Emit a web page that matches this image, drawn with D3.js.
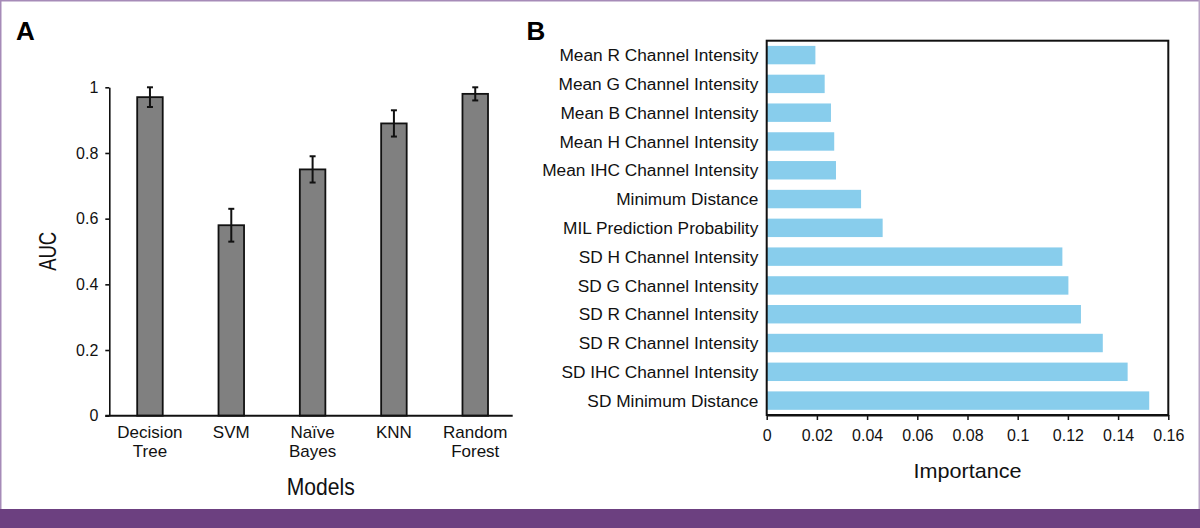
<!DOCTYPE html>
<html>
<head>
<meta charset="utf-8">
<script src="https://cdn.jsdelivr.net/npm/d3@7"></script>
<style>
  html, body { margin: 0; padding: 0; background: #fff; }
  svg { display: block; font-family: "Liberation Sans", Arial, Helvetica, sans-serif; }
</style>
</head>
<body>
<svg id="chart" width="1200" height="528"></svg>
<script>
// ---------- Data ----------
const models = ["Decision Tree", "SVM", "Naïve Bayes", "KNN", "Random Forest"];
const modelLabelLines = [["Decision", "Tree"], ["SVM"], ["Naïve", "Bayes"], ["KNN"], ["Random", "Forest"]];
const aucValues = [0.97, 0.58, 0.75, 0.89, 0.98];
const aucLow = [0.94, 0.53, 0.71, 0.85, 0.96];
const aucHigh = [1.00, 0.63, 0.79, 0.93, 1.00];
const aucTicks = [0, 0.2, 0.4, 0.6, 0.8, 1];
const aucTickLabels = ["0", "0.2", "0.4", "0.6", "0.8", "1"];

const features = [
  "Mean R Channel Intensity",
  "Mean G Channel Intensity",
  "Mean B Channel Intensity",
  "Mean H Channel Intensity",
  "Mean IHC Channel Intensity",
  "Minimum Distance",
  "MIL Prediction Probability",
  "SD H Channel Intensity",
  "SD G Channel Intensity",
  "SD R Channel Intensity",
  "SD R Channel Intensity",
  "SD IHC Channel Intensity",
  "SD Minimum Distance"
];
const importance = [0.0194, 0.0231, 0.0256, 0.0269, 0.0276, 0.0376, 0.0462, 0.1178, 0.1202, 0.1252, 0.1339, 0.1438, 0.1524];
const impTicks = [0, 0.02, 0.04, 0.06, 0.08, 0.1, 0.12, 0.14, 0.16];
const impTickLabels = ["0", "0.02", "0.04", "0.06", "0.08", "0.1", "0.12", "0.14", "0.16"];

// ---------- Setup ----------
const svg = d3.select("#chart");
const W = 1200, H = 528;

// frame decorations
svg.append("rect").attr("x", 0).attr("y", 0).attr("width", W).attr("height", H).attr("fill", "#fff");
svg.append("rect").attr("x", 0).attr("y", 509).attr("width", W).attr("height", H - 509).attr("fill", "#6c4080");
svg.append("line").attr("x1", 0).attr("x2", W).attr("y1", 0.75).attr("y2", 0.75).attr("stroke", "#a68bb8").attr("stroke-width", 1.5);
svg.append("line").attr("x1", 0.75).attr("x2", 0.75).attr("y1", 0).attr("y2", 509).attr("stroke", "#a68bb8").attr("stroke-width", 1.5);
svg.append("line").attr("x1", W - 0.75).attr("x2", W - 0.75).attr("y1", 0).attr("y2", 509).attr("stroke", "#b9a5c6").attr("stroke-width", 1.5);

// ---------- Panel A ----------
const gA = svg.append("g");
const xA = d3.scaleBand().domain(d3.range(models.length)).range([109.3, 515.9]).paddingInner(0.686).paddingOuter(0.343);
const yA = d3.scaleLinear().domain([0, 1]).range([415.7, 87.3]);

gA.append("text").attr("x", 16).attr("y", 39.5).attr("font-size", 26).attr("font-weight", "bold").text("A");

// bars
gA.selectAll("rect.bar").data(aucValues).join("rect")
  .attr("class", "bar")
  .attr("x", (d, i) => xA(i))
  .attr("width", xA.bandwidth())
  .attr("y", d => yA(d))
  .attr("height", d => yA(0) - yA(d))
  .attr("fill", "#808080")
  .attr("stroke", "#111")
  .attr("stroke-width", 1.8);

// error bars
const capW = 6;
const eb = gA.selectAll("g.err").data(aucValues).join("g").attr("class", "err");
eb.append("line")
  .attr("x1", (d, i) => xA(i) + xA.bandwidth() / 2)
  .attr("x2", (d, i) => xA(i) + xA.bandwidth() / 2)
  .attr("y1", (d, i) => yA(aucLow[i]))
  .attr("y2", (d, i) => yA(aucHigh[i]))
  .attr("stroke", "#111").attr("stroke-width", 2);
eb.append("line")
  .attr("x1", (d, i) => xA(i) + xA.bandwidth() / 2 - capW / 2)
  .attr("x2", (d, i) => xA(i) + xA.bandwidth() / 2 + capW / 2)
  .attr("y1", (d, i) => yA(aucHigh[i]))
  .attr("y2", (d, i) => yA(aucHigh[i]))
  .attr("stroke", "#111").attr("stroke-width", 2);
eb.append("line")
  .attr("x1", (d, i) => xA(i) + xA.bandwidth() / 2 - capW / 2)
  .attr("x2", (d, i) => xA(i) + xA.bandwidth() / 2 + capW / 2)
  .attr("y1", (d, i) => yA(aucLow[i]))
  .attr("y2", (d, i) => yA(aucLow[i]))
  .attr("stroke", "#111").attr("stroke-width", 2);

// y axis
const axA = gA.append("g").attr("transform", `translate(${xA.range()[0]},0)`)
  .call(d3.axisLeft(yA).tickValues(aucTicks).tickFormat((d, i) => aucTickLabels[i]).tickSize(4).tickSizeOuter(0).tickPadding(7));
axA.select(".domain").attr("stroke", "#111").attr("stroke-width", 1.6);
axA.selectAll(".tick line").attr("stroke", "#111").attr("stroke-width", 1.6);
axA.selectAll(".tick text").attr("font-size", 16).attr("fill", "#111").attr("font-family", "Liberation Sans, Arial, sans-serif");

// baseline
gA.append("line")
  .attr("x1", xA.range()[0] - 4).attr("x2", 512.7)
  .attr("y1", yA(0)).attr("y2", yA(0))
  .attr("stroke", "#111").attr("stroke-width", 2);

// x category labels
const xl = gA.selectAll("text.xlab").data(modelLabelLines).join("text")
  .attr("class", "xlab")
  .attr("text-anchor", "middle")
  .attr("font-size", 17)
  .attr("fill", "#111")
  .attr("x", (d, i) => xA(i) + xA.bandwidth() / 2)
  .attr("y", 438.3);
xl.selectAll("tspan").data(d => d).join("tspan")
  .attr("x", function () { return d3.select(this.parentNode).attr("x"); })
  .attr("dy", (d, j) => j === 0 ? 0 : 19)
  .text(d => d);

// axis titles
gA.append("text").attr("x", 320.8).attr("y", 495).attr("text-anchor", "middle")
  .attr("font-size", 24).attr("textLength", 68).attr("lengthAdjust", "spacingAndGlyphs")
  .attr("fill", "#111").text("Models");
gA.append("text").attr("transform", "translate(56,251.3) rotate(-90)").attr("text-anchor", "middle")
  .attr("font-size", 23).attr("textLength", 39).attr("lengthAdjust", "spacingAndGlyphs")
  .attr("fill", "#111").text("AUC");

// ---------- Panel B ----------
const gB = svg.append("g");
const xB = d3.scaleLinear().domain([0, 0.16]).range([766.7, 1168.3]);
const yB = d3.scaleBand().domain(d3.range(features.length)).range([40.7, 415]).paddingInner(0.36).paddingOuter(0.18);

gB.append("text").attr("x", 526.5).attr("y", 39.5).attr("font-size", 26).attr("font-weight", "bold").text("B");

gB.selectAll("rect.hbar").data(importance).join("rect")
  .attr("class", "hbar")
  .attr("x", xB(0))
  .attr("y", (d, i) => yB(i))
  .attr("width", d => xB(d) - xB(0))
  .attr("height", yB.bandwidth())
  .attr("fill", "#88cdec");

// box
gB.append("rect")
  .attr("x", xB.range()[0]).attr("y", yB.range()[0])
  .attr("width", xB.range()[1] - xB.range()[0])
  .attr("height", yB.range()[1] - yB.range()[0])
  .attr("fill", "none").attr("stroke", "#111").attr("stroke-width", 2);

// x axis
const axB = gB.append("g").attr("transform", `translate(0,${yB.range()[1]})`)
  .call(d3.axisBottom(xB).tickValues(impTicks).tickFormat((d, i) => impTickLabels[i]).tickSize(5).tickSizeOuter(0).tickPadding(10));
axB.select(".domain").attr("stroke", "#111").attr("stroke-width", 2);
axB.selectAll(".tick line").attr("stroke", "#111").attr("stroke-width", 1.5);
axB.selectAll(".tick text").attr("font-size", 16).attr("fill", "#111").attr("font-family", "Liberation Sans, Arial, sans-serif");

// y labels
gB.selectAll("text.ylab").data(features).join("text")
  .attr("class", "ylab")
  .attr("x", 758.3)
  .attr("y", (d, i) => yB(i) + yB.bandwidth() / 2)
  .attr("dy", "0.36em")
  .attr("text-anchor", "end")
  .attr("font-size", 17.3)
  .attr("fill", "#111")
  .text(d => d);

gB.append("text").attr("x", 967.5).attr("y", 478).attr("text-anchor", "middle")
  .attr("font-size", 21).attr("textLength", 108).attr("lengthAdjust", "spacingAndGlyphs")
  .attr("fill", "#111").text("Importance");
</script>
</body>
</html>
